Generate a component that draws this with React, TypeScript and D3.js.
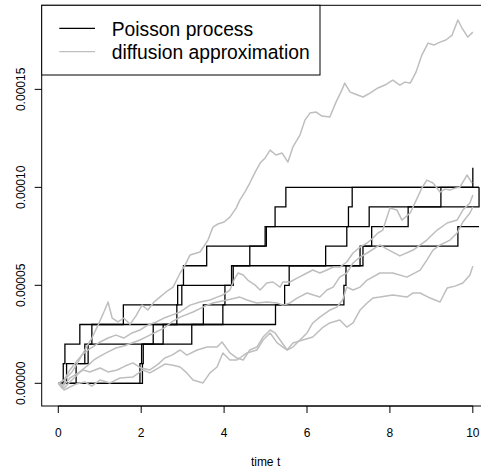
import React, { useEffect, useRef } from "react";
import * as d3 from "d3";

const X_TICKS = [0, 2, 4, 6, 8, 10];
const Y_TICKS = [0, 0.00005, 0.0001, 0.00015];
const Y_TICK_LABELS = ["0.00000", "0.00005", "0.00010", "0.00015"];
const X_LABEL = "time t";
const LEGEND_LABELS = ["Poisson process", "diffusion approximation"];

// poisson paths: jump times, each jump adds JUMP_SIZE
const JUMP_SIZE = 0.00001;
const poissonJumps = [
  [0.12, 0.16, 0.52, 1.57, 2.98, 3.02, 3.58, 4.99, 5.23, 5.49, 10.0],
  [0.2, 0.64, 0.81, 2.86, 2.88, 4.22, 4.62, 5.02, 7.5, 9.23],
  [0.43, 0.72, 3.22, 3.5, 4.02, 4.18, 6.45, 6.96, 7.0, 7.09],
  [1.97, 2.01, 2.29, 3.97, 5.46, 5.57, 7.28, 7.56, 8.44, 10.15],
  [2.03, 2.05, 2.53, 5.24, 6.89, 6.94, 7.35, 9.64],
];
const poissonEnd = [10.0, 10.15, 10.15, 10.15, 10.15];

// diffusion paths: [time, value in units of 1e-5]
const UNIT = 0.00001;
const diffusion1 = [
  [0, 0], [0.09, -0.24], [0.19, 0.27], [0.33, 0.58], [0.48, 1.09], [0.64, 1.7], [0.81, 2.31],
  [0.96, 2.97], [1.1, 3.64], [1.2, 4.15], [1.3, 3.33], [1.44, 3.13], [1.58, 3.33], [1.73, 3.01],
  [1.87, 3.43], [2.02, 3.99], [2.16, 3.74], [2.31, 4.15], [2.45, 4.4], [2.6, 4.66], [2.77, 4.91],
  [2.94, 5.63], [3.06, 6.04], [3.18, 6.55], [3.42, 6.7], [3.61, 7.31], [3.73, 7.97], [3.85, 8.13],
  [4.0, 8.23], [4.14, 8.48], [4.29, 8.94], [4.38, 9.35], [4.5, 9.76], [4.62, 10.22], [4.75, 10.78],
  [4.87, 11.24], [4.99, 11.5], [5.11, 11.9], [5.25, 11.65], [5.4, 11.75], [5.54, 11.29],
  [5.66, 12.06], [5.83, 12.67], [5.95, 13.43], [6.07, 13.79], [6.22, 13.84], [6.36, 13.64],
  [6.55, 13.59], [6.7, 14.35], [6.84, 14.96], [6.91, 15.32], [7.04, 14.86], [7.16, 14.76],
  [7.35, 14.61], [7.52, 14.81], [7.71, 15.07], [7.88, 15.22], [8.07, 15.47], [8.24, 15.22],
  [8.36, 15.37], [8.49, 15.32], [8.63, 15.88], [8.77, 16.75], [8.92, 17.36], [9.06, 17.26],
  [9.21, 17.41], [9.35, 17.52], [9.5, 17.77], [9.64, 18.54], [9.74, 18.13], [9.88, 17.67],
  [10.0, 17.92],
];
const diffusion2 = [
  [0, 0], [0.14, 0.17], [0.28, 0.68], [0.43, 1.09], [0.57, 1.44], [0.72, 1.7], [0.86, 1.9],
  [1.01, 2.11], [1.2, 2.31], [1.39, 2.46], [1.58, 2.31], [1.78, 2.57], [1.97, 2.72], [2.16, 2.97],
  [2.36, 3.13], [2.55, 3.33], [2.74, 3.48], [2.94, 3.64], [3.18, 3.99], [3.42, 4.15], [3.66, 4.25],
  [3.83, 4.4], [3.97, 4.51], [4.14, 4.76], [4.26, 5.37], [4.34, 5.63], [4.46, 5.53], [4.57, 5.27],
  [4.75, 5.01], [4.87, 4.76], [5.03, 5.12], [5.18, 5.17], [5.35, 4.91], [5.42, 5.17], [5.59, 5.17],
  [5.76, 5.37], [6.0, 5.63], [6.14, 5.78], [6.31, 5.63], [6.48, 5.78], [6.63, 5.93], [6.79, 5.93],
  [6.96, 6.19], [7.11, 6.65], [7.28, 6.95], [7.45, 7.16], [7.59, 7.41], [7.71, 7.67], [7.83, 7.82],
  [8.0, 8.94], [8.17, 8.84], [8.29, 8.33], [8.49, 8.69], [8.66, 9.46], [8.77, 9.96], [8.89, 10.37],
  [9.04, 10.22], [9.21, 9.76], [9.33, 9.91], [9.45, 9.86], [9.57, 9.96], [9.69, 10.01],
  [9.86, 10.63], [9.98, 10.22],
];
const diffusion3 = [
  [0, 0], [0.14, -0.24], [0.28, 0.07], [0.43, 0.37], [0.57, 0.68], [0.72, 0.93], [0.86, 1.19],
  [1.01, 1.39], [1.2, 1.6], [1.39, 1.8], [1.58, 1.9], [1.78, 2.06], [1.97, 2.21], [2.16, 2.41],
  [2.36, 2.62], [2.55, 2.82], [2.74, 3.13], [2.94, 3.38], [3.25, 3.64], [3.59, 3.99], [3.73, 4.1],
  [4.07, 4.25], [4.38, 4.4], [4.55, 4.25], [4.79, 4.1], [5.03, 4.15], [5.28, 4.1], [5.42, 3.99],
  [5.59, 4.1], [5.76, 4.35], [6.0, 4.61], [6.31, 4.4], [6.48, 4.76], [6.63, 4.91], [6.79, 5.42],
  [6.96, 5.63], [7.11, 6.14], [7.28, 6.44], [7.45, 6.65], [7.76, 7.06], [7.93, 6.85], [8.24, 6.5],
  [8.56, 6.8], [8.89, 7.31], [9.14, 7.82], [9.38, 8.18], [9.62, 8.33], [9.76, 8.84], [9.93, 9.2],
  [10.0, 9.61],
];
const diffusion4 = [
  [0, 0], [0.14, -0.09], [0.28, 0.27], [0.43, 0.47], [0.6, 0.68], [0.76, 0.58], [1.01, 0.78],
  [1.2, 0.58], [1.42, 0.68], [1.61, 0.88], [1.8, 1.04], [2.0, 0.78], [2.21, 0.68], [2.41, 0.98],
  [2.57, 1.29], [2.74, 1.44], [2.94, 1.7], [3.1, 1.44], [3.35, 1.7], [3.59, 1.85], [3.83, 1.85],
  [3.95, 2.11], [4.14, 1.55], [4.31, 1.29], [4.46, 1.19], [4.62, 1.7], [4.79, 1.85], [4.94, 2.36],
  [5.11, 2.72], [5.23, 2.57], [5.35, 2.21], [5.52, 1.7], [5.66, 1.85], [5.83, 2.21], [6.0, 2.57],
  [6.14, 3.08], [6.31, 3.38], [6.55, 3.74], [6.72, 3.89], [6.86, 4.25], [6.96, 4.91], [7.11, 4.76],
  [7.28, 4.91], [7.45, 5.27], [7.76, 5.63], [8.07, 5.63], [8.41, 5.42], [8.73, 5.78], [8.89, 6.29],
  [9.04, 6.8], [9.21, 7.06], [9.45, 7.31], [9.62, 7.67], [9.76, 8.23], [9.93, 8.69], [10.0, 9.0],
];
const diffusion5 = [
  [0, 0], [0.14, -0.34], [0.28, -0.19], [0.43, -0.04], [0.64, 0.07], [0.81, -0.14], [1.01, 0.17],
  [1.25, 0.02], [1.49, 0.27], [1.8, 0.32], [2.04, 0.68], [2.21, 0.53], [2.41, 0.78], [2.57, 0.98],
  [2.74, 0.93], [2.94, 0.83], [3.1, 0.53], [3.25, 0.17], [3.49, 0.02], [3.66, 0.53], [3.83, 0.83],
  [3.97, 1.55], [4.14, 1.19], [4.31, 1.19], [4.55, 1.55], [4.79, 1.7], [4.94, 2.21], [5.11, 2.57],
  [5.28, 2.06], [5.42, 1.85], [5.52, 1.7], [5.66, 2.06], [5.9, 2.21], [6.14, 2.36], [6.39, 2.87],
  [6.55, 3.08], [6.79, 3.23], [6.96, 2.87], [7.11, 3.08], [7.28, 3.74], [7.45, 4.1], [7.59, 4.35],
  [7.76, 4.4], [8.07, 4.51], [8.41, 4.4], [8.56, 4.61], [8.73, 4.61], [8.97, 4.35], [9.21, 4.15],
  [9.38, 4.86], [9.57, 4.96], [9.76, 5.12], [9.93, 5.53], [10.0, 5.98],
];
const diffusionPaths = [diffusion1, diffusion2, diffusion3, diffusion4, diffusion5];

export default function App() {
  const ref = useRef(null);

  useEffect(() => {
    const svg = d3.select(ref.current);
    svg.selectAll("*").remove();

    const font = "'Liberation Sans', Arial, Helvetica, sans-serif";
    const left = 41.7, right = 489.4, top = 5.3, bottom = 406;

    const x = d3.scaleLinear().domain([-0.4, 10.4]).range([left, right]);
    const y = d3.scaleLinear().domain([-0.00001158, 0.0001929]).range([bottom, top]);

    svg.append("defs").append("clipPath").attr("id", "plot-clip")
      .append("rect")
      .attr("x", left).attr("y", top)
      .attr("width", right - left).attr("height", bottom - top);

    const g = svg.append("g").attr("clip-path", "url(#plot-clip)");

    const stepLine = d3.line()
      .x((d) => x(d[0]))
      .y((d) => y(d[1]))
      .curve(d3.curveStepAfter);

    poissonJumps.forEach((jumps, i) => {
      const pts = [[0, 0]];
      jumps.forEach((t, k) => pts.push([t, (k + 1) * JUMP_SIZE]));
      if (poissonEnd[i] > jumps[jumps.length - 1]) {
        pts.push([poissonEnd[i], jumps.length * JUMP_SIZE]);
      }
      g.append("path")
        .attr("d", stepLine(pts))
        .attr("fill", "none")
        .attr("stroke", "#000")
        .attr("stroke-width", 1.3);
    });

    const diffLine = d3.line()
      .x((d) => x(d[0]))
      .y((d) => y(d[1] * UNIT));

    diffusionPaths.forEach((p) => {
      g.append("path")
        .attr("d", diffLine(p))
        .attr("fill", "none")
        .attr("stroke", "#bebebe")
        .attr("stroke-width", 1.5)
        .attr("stroke-linejoin", "round");
    });

    // box
    svg.append("rect")
      .attr("x", left).attr("y", top)
      .attr("width", right - left).attr("height", bottom - top)
      .attr("fill", "none").attr("stroke", "#000");

    // x axis
    const xa = svg.append("g");
    xa.append("line")
      .attr("x1", x(X_TICKS[0])).attr("x2", x(X_TICKS[X_TICKS.length - 1]))
      .attr("y1", bottom).attr("y2", bottom).attr("stroke", "#000");
    X_TICKS.forEach((t) => {
      xa.append("line")
        .attr("x1", x(t)).attr("x2", x(t))
        .attr("y1", bottom).attr("y2", bottom + 7).attr("stroke", "#000");
      xa.append("text")
        .attr("x", x(t)).attr("y", 436.5)
        .attr("text-anchor", "middle")
        .attr("font-family", font).attr("font-size", 12)
        .text(String(t));
    });
    svg.append("text")
      .attr("x", (left + right) / 2).attr("y", 465.5)
      .attr("text-anchor", "middle")
      .attr("font-family", font).attr("font-size", 12)
      .text(X_LABEL);

    // y axis
    const ya = svg.append("g");
    Y_TICKS.forEach((v, i) => {
      ya.append("line")
        .attr("x1", left - 7).attr("x2", left)
        .attr("y1", y(v)).attr("y2", y(v)).attr("stroke", "#000");
      ya.append("text")
        .attr("transform", `translate(25,${y(v)}) rotate(-90)`)
        .attr("text-anchor", "middle")
        .attr("font-family", font).attr("font-size", 12)
        .text(Y_TICK_LABELS[i]);
    });

    // legend
    const lg = svg.append("g");
    lg.append("rect")
      .attr("x", left).attr("y", top)
      .attr("width", 320 - left).attr("height", 75 - top)
      .attr("fill", "#fff").attr("stroke", "#000");
    const legendColors = ["#000", "#bebebe"];
    LEGEND_LABELS.forEach((label, i) => {
      const ly = 28.4 + i * 23.3;
      lg.append("line")
        .attr("x1", 59.3).attr("x2", 95)
        .attr("y1", ly).attr("y2", ly)
        .attr("stroke", legendColors[i]).attr("stroke-width", 1.3);
      lg.append("text")
        .attr("x", 111.7).attr("y", ly + 7.3)
        .attr("font-family", font).attr("font-size", 19.3)
        .text(label);
    });
  }, []);

  return (
    <svg
      ref={ref}
      width={481}
      height={471}
      style={{ position: "absolute", left: 0, top: 0, background: "#fff" }}
    ></svg>
  );
}
